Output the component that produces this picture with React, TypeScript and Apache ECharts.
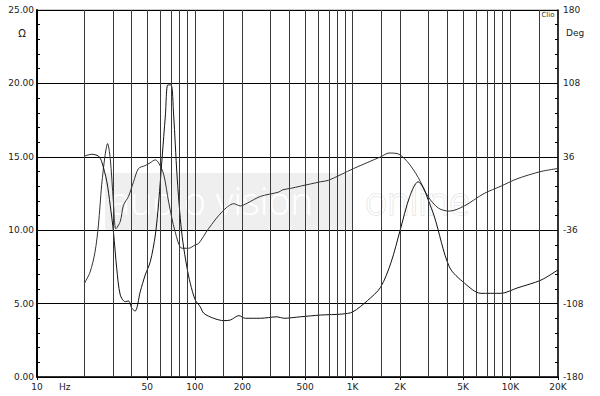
import React, { useEffect, useRef } from "react";
import * as echarts from "echarts";

// Impedance magnitude (Ω)
const IMP_FREQ = [20, 22.2, 24.5, 25.7, 27.7, 29.1, 30.5, 32, 33.7, 36.2, 38, 39.9, 41.9, 45.1, 48.5, 52.2, 56.2, 59, 62, 65.1, 67.4, 70.7, 73.4, 77.1, 80.9, 84, 89, 93.6, 100.6, 108, 114, 131.6, 152.6, 168, 190, 209, 260, 332, 366, 467, 627, 860, 1000, 1240, 1500, 1750, 2000, 2300, 2600, 2800, 3000, 3300, 4100, 5100, 6500, 8700, 11000, 15600, 20000];
const IMP_OHM = [15.05, 15.17, 15.05, 14.67, 13.3, 11.7, 9.9, 7.4, 5.59, 5.13, 5.18, 4.68, 4.5, 5.81, 6.95, 7.85, 9.67, 11.9, 14.9, 17.85, 19.9, 19.9, 17.85, 13.76, 10.8, 9.2, 7.5, 6.38, 5.25, 4.8, 4.34, 4.0, 3.84, 3.88, 4.18, 4.0, 4.0, 4.1, 4.0, 4.1, 4.22, 4.29, 4.43, 5.2, 6.1, 7.8, 10.0, 12.3, 13.3, 12.9, 12.1, 10.9, 7.5, 6.4, 5.7, 5.7, 6.06, 6.6, 7.3];

// Phase (degrees)
const PH_FREQ = [20, 21.7, 23.3, 24.5, 25.7, 27, 28, 29.1, 30.5, 31.6, 33.7, 35.3, 38, 40.9, 44, 48.5, 52, 56.2, 59, 63.5, 68.3, 75, 82.9, 91.4, 100.6, 105.8, 122, 149, 176.5, 194, 214, 260, 340, 360, 404, 467, 627, 704, 1014, 1506, 1700, 1940, 2250, 2600, 3000, 3500, 4100, 5100, 6800, 8700, 11000, 15600, 20000];
const PH_DEG = [-88, -77, -57.6, -31, 8.6, 37.4, 49, 34.6, -8.6, -34.6, -27.4, -11.5, -2.9, 11.5, 24.5, 27.4, 30, 33, 30, 18.7, -8.6, -37.4, -53.7, -53.7, -50.4, -49, -34.6, -17.9, -10, -12.2, -9.6, -2.9, 1.4, 3.6, 5, 7.2, 11.5, 13, 24.5, 36, 39.7, 38.9, 30.2, 15.8, -2.9, -14.4, -17.3, -12.2, 0, 7.2, 14.4, 21.6, 24.5];

// Vertical grid lines (Hz)
const GRID_FREQS = [20, 30, 40, 50, 60, 70, 80, 90, 100, 150, 200, 300, 400, 500, 600, 700, 800, 900, 1000, 1500, 2000, 3000, 4000, 5000, 6000, 7000, 8000, 9000, 10000, 15000];

// X labels
const X_LABEL_FREQS = [10, 15, 50, 100, 200, 500, 1000, 2000, 5000, 10000, 20000];
const X_LABELS = ["10", "Hz", "50", "100", "200", "500", "1K", "2K", "5K", "10K", "20K"];

const FONT = '"DejaVu Sans", Verdana, sans-serif';

export default function App() {
  const ref = useRef<HTMLDivElement>(null);
  useEffect(() => {
    if (!ref.current) return;
    const chart = echarts.init(ref.current, null, { renderer: "svg" });
    const lg = (f: number) => Math.log10(f);
    const labelMap: Record<string, string> = {};
    X_LABEL_FREQS.forEach((f, i) => {
      labelMap[lg(f).toFixed(4)] = X_LABELS[i];
    });
    const impData = IMP_FREQ.map((f, i) => [lg(f), IMP_OHM[i]]);
    const phData = PH_FREQ.map((f, i) => [lg(f), PH_DEG[i] + 180]);

    chart.setOption({
      animation: false,
      backgroundColor: "#ffffff",
      grid: {
        left: 37,
        right: 42,
        top: 10,
        bottom: 19,
        show: true,
        borderColor: "#999",
        borderWidth: 1,
      },
      xAxis: {
        type: "value",
        min: 1,
        max: lg(20000),
        axisLine: { show: true, onZero: false, lineStyle: { color: "#000", width: 1.5 } },
        splitLine: { show: false },
        axisTick: {
          show: true,
          customValues: X_LABEL_FREQS.filter((f) => f !== 15).map(lg),
          length: 3,
          lineStyle: { color: "#000" },
        },
        axisLabel: {
          customValues: X_LABEL_FREQS.map(lg),
          formatter: (v: number) => labelMap[v.toFixed(4)] ?? "",
          color: "#222",
          fontSize: 9,
          fontFamily: FONT,
          margin: 5,
          showMinLabel: true,
          showMaxLabel: true,
        },
      },
      yAxis: [
        {
          type: "value",
          min: 0,
          max: 25,
          interval: 5,
          position: "left",
          axisLine: { show: true, lineStyle: { color: "#000", width: 2 } },
          axisTick: { show: true, inside: true, length: 4, lineStyle: { color: "#000" } },
          minorTick: { show: true, splitNumber: 5, length: 3, lineStyle: { color: "#000" } },
          splitLine: { show: true, lineStyle: { color: "#000", width: 1 } },
          axisLabel: {
            formatter: (v: number) => v.toFixed(2),
            color: "#222",
            fontSize: 9,
            fontFamily: FONT,
            margin: 3,
          },
        },
        {
          type: "value",
          min: 0,
          max: 360,
          interval: 72,
          position: "right",
          axisLine: { show: true, lineStyle: { color: "#000", width: 1.5 } },
          axisTick: { show: true, inside: true, length: 4, lineStyle: { color: "#000" } },
          minorTick: { show: true, splitNumber: 5, length: 3, lineStyle: { color: "#000" } },
          splitLine: { show: false },
          axisLabel: {
            formatter: (v: number) => String(Math.round(v - 180)),
            color: "#222",
            fontSize: 9,
            fontFamily: FONT,
            margin: 5,
          },
        },
      ],
      graphic: [
        {
          type: "rect",
          z: -10,
          silent: true,
          shape: { x: 105, y: 173, width: 248, height: 57, r: 3 },
          style: { fill: "#efefef" },
        },
        {
          type: "text",
          z: -9,
          silent: true,
          x: 110,
          y: 200,
          style: {
            text: "audio vision",
            fill: "#ffffff",
            font: '300 38px "Open Sans", sans-serif',
            textVerticalAlign: "middle",
          },
        },
        {
          type: "text",
          z: -9,
          silent: true,
          x: 365,
          y: 200,
          style: {
            text: "online",
            fill: "#ffffff",
            stroke: "#e4e4e4",
            lineWidth: 1.5,
            font: '300 38px "Open Sans", sans-serif',
            textVerticalAlign: "middle",
          },
        },
        {
          type: "text",
          x: 22,
          y: 33,
          style: { text: "Ω", fill: "#222", font: `10px ${FONT}`, textAlign: "center", textVerticalAlign: "middle" },
        },
        {
          type: "text",
          x: 566,
          y: 33,
          style: { text: "Deg", fill: "#222", font: `9px ${FONT}`, textAlign: "left", textVerticalAlign: "middle" },
        },
        {
          type: "text",
          x: 548,
          y: 15,
          style: { text: "Clio", fill: "#333", font: `7px ${FONT}`, textAlign: "center", textVerticalAlign: "middle" },
        },
      ],
      series: [
        {
          type: "line",
          data: [],
          z: 1,
          silent: true,
          markLine: {
            silent: true,
            symbol: ["none", "none"],
            label: { show: false },
            emphasis: { disabled: true },
            lineStyle: { color: "#3a3a3a", width: 1, type: "solid" },
            data: GRID_FREQS.map((f) => ({ xAxis: lg(f) })),
          },
        },
        {
          name: "Phase",
          type: "line",
          yAxisIndex: 1,
          data: phData,
          z: 3,
          symbol: "none",
          smooth: 0.3,
          lineStyle: { color: "#333", width: 1 },
        },
        {
          name: "Impedance",
          type: "line",
          yAxisIndex: 0,
          data: impData,
          z: 4,
          symbol: "none",
          smooth: 0.3,
          lineStyle: { color: "#111", width: 1 },
        },
      ],
    });
    return () => chart.dispose();
  }, []);
  return (
    <div
      ref={ref}
      style={{ position: "fixed", left: 0, top: 0, width: 600, height: 396 }}
    />
  );
}
